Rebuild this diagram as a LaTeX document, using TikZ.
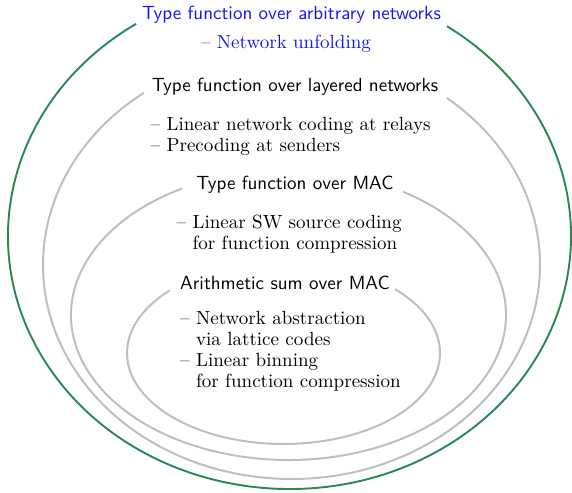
\documentclass[tikz,border=0pt]{standalone}
\usepackage{tikz}

\definecolor{ringgreen}{RGB}{40,136,84}
\definecolor{ringgray}{RGB}{190,190,190}
\definecolor{txtblue}{RGB}{20,20,245}

\begin{document}
\begin{tikzpicture}[x=0.525pt,y=0.525pt,
  title/.style={font=\sffamily},
  items/.style={align=left,anchor=west,font=\fontsize{10}{11}\selectfont},
  ring/.style={ringgray,line width=1.05pt},
  outring/.style={ringgreen,line width=1pt}]
  \useasboundingbox (0,0) rectangle (572,492);
  % rings, open at the top where the titles sit
  \draw[outring] (289.5,256) ++(123:281.5 and 253) arc[start angle=123,end angle=416,x radius=281.5,y radius=253];
  \draw[ring] (291.5,227) ++(126.4:248.5 and 214) arc[start angle=126.4,end angle=411.3,x radius=248.5,y radius=214];
  \draw[ring] (288.5,177) ++(119.3:217.5 and 145) arc[start angle=119.3,end angle=418.2,x radius=217.5,y radius=145];
  \draw[ring] (283.5,139) ++(136.5:156.5 and 91) arc[start angle=136.5,end angle=404.6,x radius=156.5,y radius=91];
  % titles and contents
  \node[title,txtblue] (arb) at (291.5,477) {Type function over arbitrary networks};
  \node[txtblue] (arbtxt) at (286,448) {-- Network unfolding};
  \node[title] (lay) at (295,405) {Type function over layered networks};
  \node[items] (laytxt) at (144,355.5) {-- Linear network coding at relays\\-- Precoding at senders};
  \node[title] (mac) at (295,307) {Type function over MAC};
  \node[items] (mactxt) at (170,258) {-- Linear SW source coding\\\phantom{-- }for function compression};
  \node[title] (sum) at (285,209) {Arithmetic sum over MAC};
  \node[items] (sumtxt) at (173.5,140.5) {-- Network abstraction\\\phantom{-- }via lattice codes\\-- Linear binning\\\phantom{-- }for function compression};
\end{tikzpicture}
\end{document}
